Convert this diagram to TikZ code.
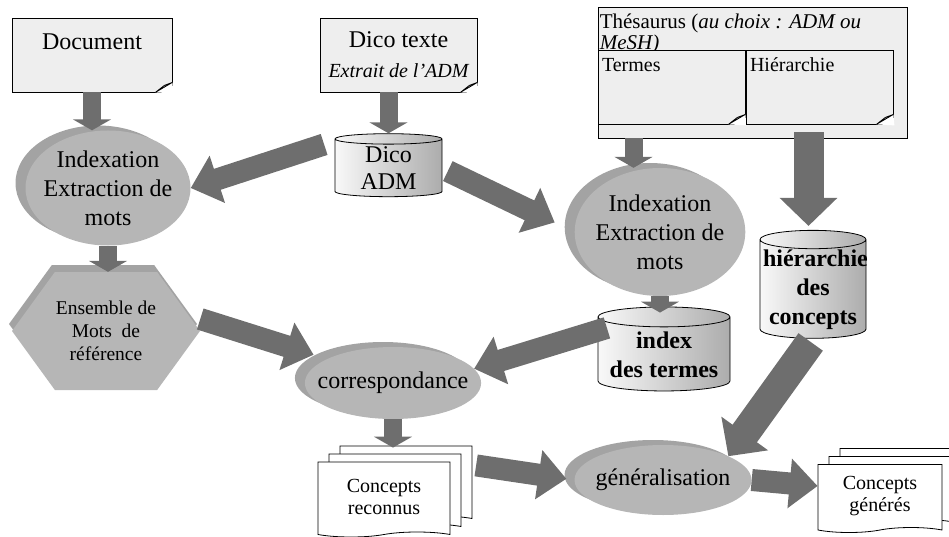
\documentclass[tikz,border=0pt]{standalone}
\usepackage{fontspec}
\setmainfont{Liberation Serif}
\usetikzlibrary{shapes.geometric, shapes.symbols, arrows.meta, calc, shadows}
\definecolor{GrisFleche}{HTML}{6E6E6E}
\definecolor{GrisForme}{HTML}{B6B6B6}
\definecolor{GrisOmbre}{HTML}{A3A3A3}
\definecolor{FondNote}{HTML}{EEEEEE}
\newcommand{\grand}{\fontsize{24pt}{29pt}\selectfont}
\newcommand{\moyen}{\fontsize{20pt}{22pt}\selectfont}
\newcommand{\petit}{\fontsize{19.5pt}{23pt}\selectfont}
% coin replie en bas a droite d'une note
\newcommand{\coin}[1]{%
  \fill[white] ([xshift=-17pt]#1.south east) -- ([yshift=10pt]#1.south east)
    -- ([shift={(1pt,-1pt)}]#1.south east) -- cycle;
  \draw[fill=gray!25, line width=0.8pt] ([xshift=-17pt]#1.south east)
    -- ([yshift=10pt]#1.south east) -- ([xshift=-8pt,yshift=7pt]#1.south east) -- cycle;}
\tikzset{
  note/.style={draw, fill=FondNote, line width=0.8pt, inner sep=4pt},
  bulle/.style={ellipse, fill=GrisForme, draw=none, inner ysep=0pt, align=center,
    copy shadow={shadow xshift=-10pt, shadow yshift=5pt, fill=GrisOmbre, draw=none}},
  hexa/.style={signal, signal to=east and west, signal pointer angle=108,
    fill=GrisForme, draw=none, align=center, inner sep=0pt,
    copy shadow={shadow xshift=-3pt, shadow yshift=7pt, fill=GrisOmbre, draw=none}},
  cuve/.style={cylinder, shape border rotate=90, aspect=0.18, draw, line width=0.8pt,
    left color=gray!5, right color=gray!65, align=center, inner sep=1pt},
  pages/.style={tape, tape bend top=none, draw, fill=white, line width=0.8pt, align=center,
    double copy shadow={shadow xshift=11pt, shadow yshift=8pt}},
  fleche/.style={draw=GrisFleche, line width=18pt, -{Triangle[width=38pt,length=11pt]}},
  flechelongue/.style={draw=GrisFleche, line width=22pt, -{Triangle[width=48pt,length=28pt]}},
  grossefleche/.style={draw=GrisFleche, line width=30pt, -{Triangle[width=56pt,length=28pt]}},
}

\begin{document}
\begin{tikzpicture}[x=1pt, y=-1pt]
\useasboundingbox (0,0) rectangle (949,537);

% sources
\node[note, minimum width=160pt, text height=28pt, text depth=38pt, font=\grand] (doc) at (92,55) {Document};
\coin{doc}
\node[note, minimum width=157pt, minimum height=74pt, align=center] (dicotexte) at (398.5,55)
  {{\grand Dico texte}\\[15pt]{\moyen\itshape Extrait de l'ADM}};
\coin{dicotexte}
\node[note, minimum width=309pt, minimum height=131pt,
      label={[anchor=north west, align=left, inner xsep=2pt, inner ysep=7pt, font=\fontsize{21pt}{21pt}\selectfont]north west:{Thésaurus (\textit{au choix : ADM ou}\\\textit{MeSH)}}}]
      (thes) at (752.5,72.5) {};
\node[note, minimum width=147pt, text width=139pt, align=left, text height=18pt, text depth=48pt, font=\moyen] (termes) at (671.5,87) {Termes};
\coin{termes}
\node[note, minimum width=147pt, text width=139pt, align=left, text height=18pt, text depth=48pt, font=\moyen] (hier) at (819.5,87) {Hiérarchie};
\coin{hier}

% traitements
\node[bulle, minimum width=165pt, minimum height=115pt, inner xsep=-6pt, font=\grand] (idx1) at (108,188) {Indexation\\Extraction de\\mots};
\node[cuve, minimum width=107pt, minimum height=63pt, font=\fontsize{24pt}{27pt}\selectfont] (dicoadm) at (388.5,168.5) {Dico\\ADM};
\node[bulle, minimum width=170pt, minimum height=128pt, inner xsep=-4pt, font=\grand] (idx2) at (660,232) {Indexation\\Extraction de\\mots};
\node[cuve, minimum width=106pt, minimum height=104pt, text width=100pt, font=\grand\bfseries] (hcyl) at (813,290) {hiérarchie\\des\\concepts};
\node[hexa, minimum width=188pt, minimum height=118pt, font=\petit] (hex) at (106,331) {Ensemble de\\Mots~ de\\référence};
\node[bulle, minimum width=175pt, minimum height=72pt, inner xsep=-13pt, font=\grand] (corr) at (393,383) {correspondance};
\node[cuve, minimum width=132pt, minimum height=84pt, font=\grand\bfseries] (index) at (664,355) {index\\des termes};
\node[pages, minimum width=132pt, minimum height=75pt, font=\moyen] (reconnus) at (384,497) {Concepts\\reconnus};
\node[bulle, minimum width=177pt, minimum height=70pt, inner xsep=-5pt, font=\grand] (gen) at (663,480) {généralisation};
\node[pages, minimum width=124pt, minimum height=68pt, font=\moyen] (generes) at (880,496) {Concepts\\générés};

% fleches
\draw[fleche] (doc.south) -- (doc.south |- idx1.north);
\draw[fleche] (dicoadm.north |- dicotexte.south) -- (dicoadm.north);
\draw[flechelongue, shorten <=32pt] (dicoadm.north west) -- (idx1.east);
\draw[flechelongue, shorten <=6pt, shorten >=22pt] (dicoadm.east) -- (idx2.west);
\draw[fleche, shorten <=14pt] ([xshift=-38pt]termes.south) -- ([xshift=-38pt]termes.south |- idx2.north);
\draw[grossefleche, shorten <=8pt, shorten >=4pt] ([xshift=-11pt]hier.south) -- ([xshift=-11pt]hier.south |- hcyl.north);
\draw[fleche] (idx1.south) -- (idx1.south |- hex.north);
\draw[fleche, shorten >=-6pt] (idx2.south) -- (idx2.south |- index.north);
\draw[flechelongue, shorten >=14pt] ([yshift=12pt]hex.east) -- (corr.160);
\draw[flechelongue, shorten <=12pt] ([yshift=-15pt]index.north west) -- (corr.10);
\draw[fleche, shorten >=14pt] (corr.south) -- (corr.south |- reconnus.north);
\draw[grossefleche, shorten <=4pt] (hcyl.south) -- (gen.20);
\draw[flechelongue, shorten <=26pt, shorten >=8pt] (reconnus.north east) -- (gen.west);
\draw[flechelongue] (gen.east) -- ([yshift=10pt]generes.west);
\end{tikzpicture}
\end{document}
